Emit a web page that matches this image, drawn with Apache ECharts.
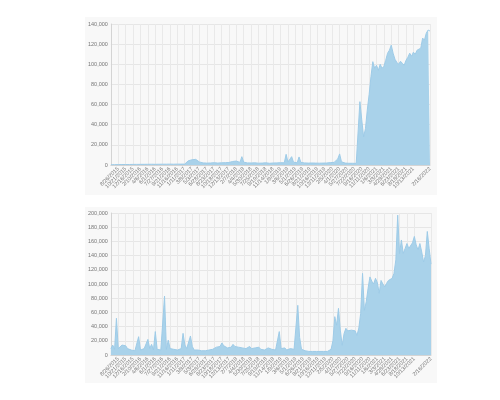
<!DOCTYPE html>
<html><head><meta charset="utf-8">
<script src="https://cdn.jsdelivr.net/npm/echarts@6/dist/echarts.min.js"></script>
<style>
html,body{margin:0;padding:0;background:#fff;width:500px;height:400px;overflow:hidden;}
.card{position:absolute;background:#f8f8f8;}
#c1{left:85px;top:17px;width:352px;height:178px;}
#c2{left:85px;top:207px;width:352px;height:176px;}
</style></head><body>
<div id="c1" class="card"></div>
<div id="c2" class="card"></div>
<script>
const dates = [
"7/1/2015","7/15/2015","7/29/2015","8/12/2015","8/26/2015","9/9/2015","9/23/2015","10/7/2015","10/21/2015","11/4/2015","11/18/2015","12/2/2015","12/16/2015","12/30/2015",
"1/13/2016","1/27/2016","2/10/2016","2/24/2016","3/9/2016","3/23/2016","4/6/2016","4/20/2016","5/4/2016","5/18/2016","6/1/2016","6/15/2016","6/29/2016","7/13/2016","7/27/2016","8/10/2016","8/24/2016","9/7/2016","9/21/2016","10/5/2016","10/19/2016","11/2/2016","11/16/2016","11/30/2016","12/14/2016","12/28/2016",
"1/11/2017","1/25/2017","2/8/2017","2/22/2017","3/8/2017","3/22/2017","4/5/2017","4/19/2017","5/3/2017","5/17/2017","5/31/2017","6/14/2017","6/28/2017","7/12/2017","7/26/2017","8/9/2017","8/23/2017","9/6/2017","9/20/2017","10/4/2017","10/18/2017","11/1/2017","11/15/2017","11/29/2017","12/13/2017","12/27/2017",
"1/10/2018","1/24/2018","2/7/2018","2/21/2018","3/7/2018","3/21/2018","4/4/2018","4/18/2018","5/2/2018","5/16/2018","5/30/2018","6/13/2018","6/27/2018","7/11/2018","7/25/2018","8/8/2018","8/22/2018","9/5/2018","9/19/2018","10/3/2018","10/17/2018","10/31/2018","11/14/2018","11/28/2018","12/12/2018","12/26/2018",
"1/9/2019","1/23/2019","2/6/2019","2/20/2019","3/6/2019","3/20/2019","4/3/2019","4/17/2019","5/1/2019","5/15/2019","5/29/2019","6/12/2019","6/26/2019","7/10/2019","7/24/2019","8/7/2019","8/21/2019","9/4/2019","9/18/2019","10/2/2019","10/16/2019","10/30/2019","11/13/2019","11/27/2019","12/11/2019","12/25/2019",
"1/8/2020","1/22/2020","2/5/2020","2/19/2020","3/4/2020","3/18/2020","4/1/2020","4/15/2020","4/29/2020","5/13/2020","5/27/2020","6/10/2020","6/24/2020","7/8/2020","7/22/2020","8/5/2020","8/19/2020","9/2/2020","9/16/2020","9/30/2020","10/14/2020","10/28/2020","11/11/2020","11/25/2020","12/9/2020","12/23/2020",
"1/6/2021","1/20/2021","2/3/2021","2/17/2021","3/3/2021","3/17/2021","3/31/2021","4/14/2021","4/28/2021","5/12/2021","5/26/2021","6/9/2021","6/23/2021","7/7/2021","7/21/2021","8/4/2021","8/18/2021","9/1/2021","9/15/2021","9/29/2021","10/13/2021","10/27/2021","11/10/2021","11/24/2021","12/8/2021","12/22/2021",
"1/5/2022","1/19/2022","2/2/2022","2/16/2022"
];

const topValues = [
200,300,350,400,380,420,450,500,480,520,500,550,600,580,620,600,650,700,680,650,700,720,750,700,680,720,760,800,780,750,800,820,850,800,780,820,860,900,880,850,900,950,
4200,3600,5200,3800,5600,4100,3000,
1800,2100,1700,1900,2200,2000,1800,2300,2100,1900,2400,2200,2600,2300,2000,2500,2800,3500,2700,3900,3100,2600,
8300,
2800,2400,2100,2300,2000,1900,2200,2000,1800,2100,1900,2000,2200,1800,1700,1900,2000,1800,2100,1900,2300,2500,2200,
10600,3000,2600,8300,2800,2400,2200,8000,2600,2300,
2100,2000,1900,2100,2000,1800,1900,2000,1800,1700,1900,1800,2000,2200,2400,2100,2600,3000,
6000,11000,3200,
2200,1900,1800,1700,1600,1700,1800,1600,1700,
62900,45000,28000,36000,54600,70000,88000,102600,96000,99000,94000,100000,96000,98000,104000,111000,114000,119000,111000,105000,102000,100000,103000,101000,99000,104000,107000,111000,108000,112000,110000,114000,113000,116000,126000,124000,131000,134000,133000
];

const bottomValues = [
9000,14000,8000,51700,9000,7000,14000,12000,13000,9000,8000,7000,9000,6000,8000,25800,7000,6000,9000,8000,
22000,9000,15000,7000,33000,8000,6000,7000,5000,83000,8000,21000,9000,7000,8000,10000,7000,8000,9000,30500,
14000,9000,8000,26800,12000,7000,6000,7000,5000,6000,7000,6000,8000,7000,9000,8000,10000,11000,9000,12000,
17000,13000,11000,10000,12000,11000,15000,12000,13000,11000,12000,10000,11000,9000,10000,12000,9000,8000,10000,9000,
11000,8000,9000,7000,8000,10000,9000,8000,9000,7000,8000,33000,9000,8000,10000,7000,8000,9000,7000,8000,
9000,70000,25000,8000,7000,6000,7000,5000,6000,5000,6000,5000,4000,5000,6000,5000,4000,5000,6000,8000,
20000,54000,42000,65700,35000,13600,30000,37600,34000,36000,35000,37000,34000,27700,38000,58600,115000,63000,75000,94000,
110000,104000,100000,108000,102000,87000,105000,100000,96000,101000,105000,103000,108000,115000,134000,197000,143000,162000,143000,150000,
157000,150000,148000,158000,167000,155000,148000,157000,145000,131000,140000,174000,150000,128000
];

const topMax = 140000, bottomMax = 200000, yStep = 20000;
const lastIdx = dates.length - 1;
const showTick = (i) => (i % 4 === 0 && i <= 164) || i === lastIdx;
const fmt = v => v.toLocaleString('en-US');
const FONT = '"Liberation Sans", Arial, Helvetica, sans-serif';

function makeOption(values, max, grid) {
  return {
    animation: false,
    grid: Object.assign({containLabel: false}, grid),
    xAxis: {
      type: 'category', data: dates, boundaryGap: false,
      axisLine: {lineStyle: {color: '#d4d4d4', width: 1}},
      axisTick: {show: false},
      axisLabel: {interval: (i) => showTick(i), rotate: 45, fontSize: 5.5, color: '#777', margin: 3, fontFamily: FONT},
      splitLine: {show: true, interval: (i) => showTick(i), lineStyle: {color: '#e9e9e9', width: 1}}
    },
    yAxis: {
      type: 'value', min: 0, max: max, interval: yStep,
      axisLine: {show: true, lineStyle: {color: '#d4d4d4', width: 1}},
      axisTick: {show: false},
      axisLabel: {fontSize: 5.5, color: '#777', margin: 3, fontFamily: FONT, formatter: fmt},
      splitLine: {lineStyle: {color: '#e6e6e6', width: 1}}
    },
    series: [{
      type: 'line', data: values, symbol: 'none', showSymbol: false, sampling: null,
      lineStyle: {color: '#9ecbe7', width: 1},
      areaStyle: {color: '#a9d2ea', opacity: 1}
    }]
  };
}

const ch1 = echarts.init(document.getElementById('c1'));
ch1.setOption(makeOption(topValues, topMax, {left: 25, right: 7, top: 7, bottom: 30}));
const ch2 = echarts.init(document.getElementById('c2'));
ch2.setOption(makeOption(bottomValues, bottomMax, {left: 24, right: 6, top: 6, bottom: 28}));
</script>
</body></html>
